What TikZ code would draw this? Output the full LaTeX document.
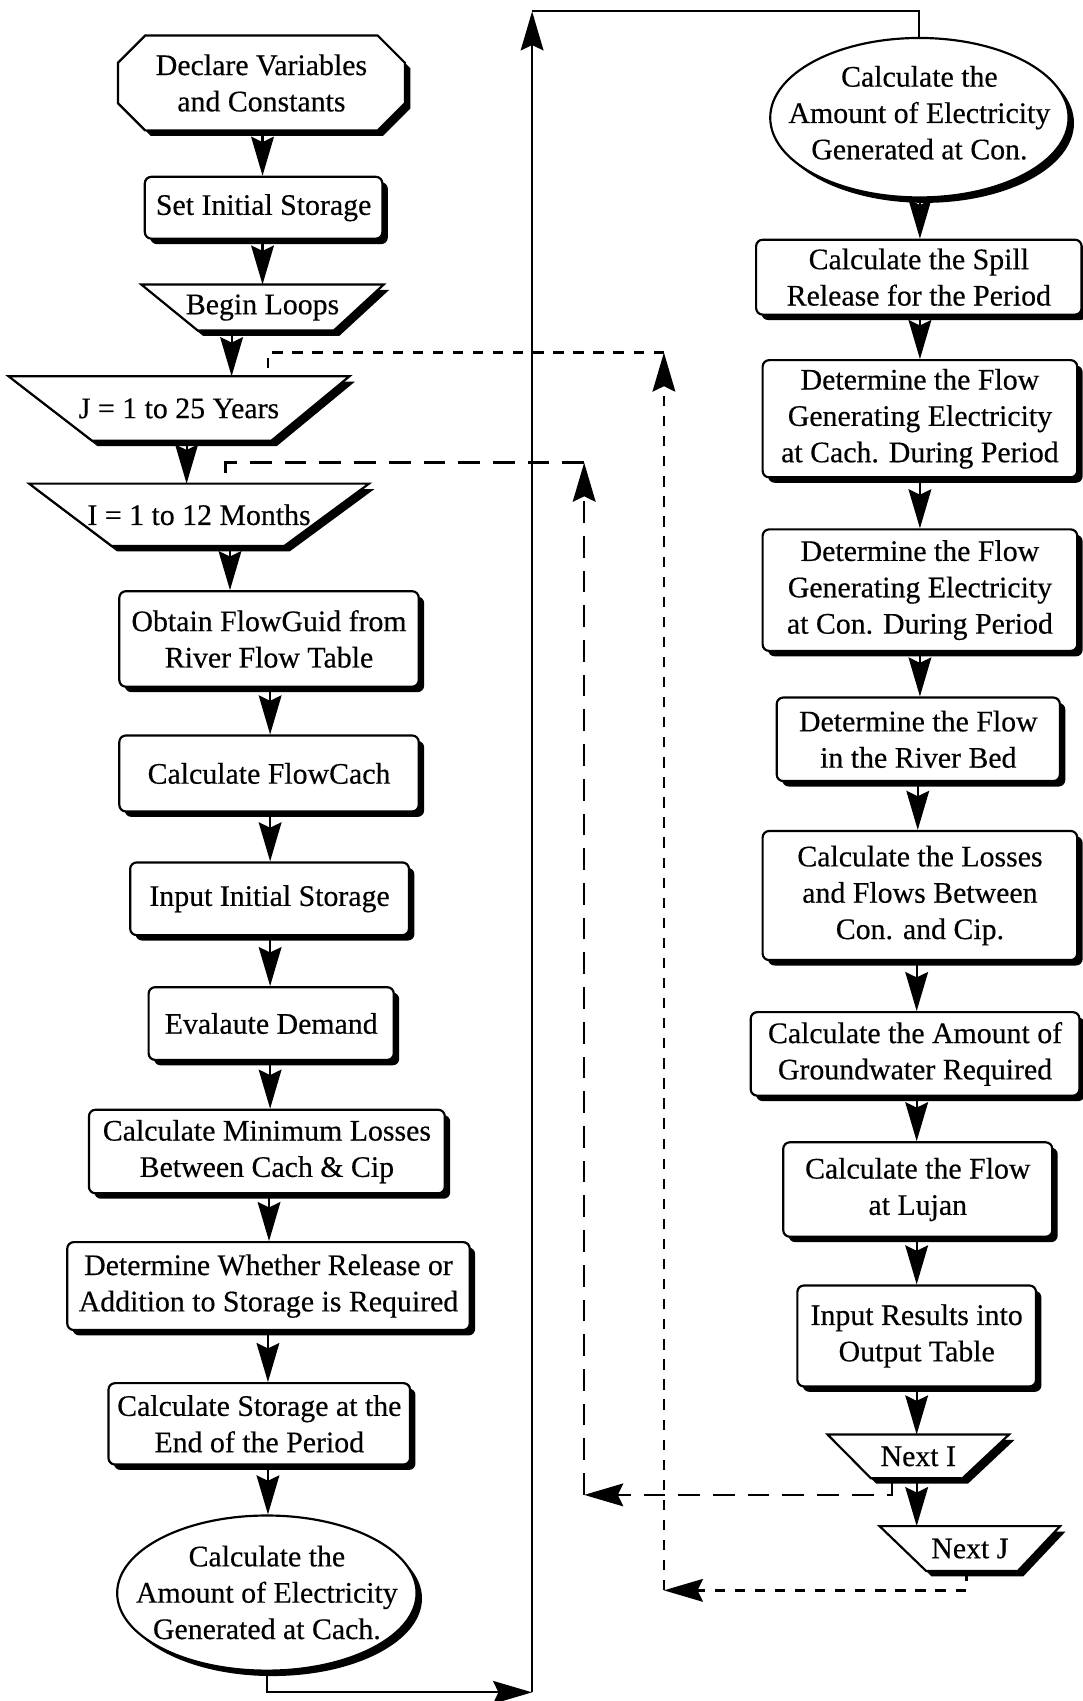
\documentclass[tikz,border=0pt]{standalone}
\usepackage{fontspec}
\setmainfont{Liberation Serif}
\newfontfamily\diagfont{Liberation Serif}[FakeBold=0.4]
\usetikzlibrary{shapes.geometric,shadows,arrows.meta,calc}
\pgfdeclarelayer{bg}
\pgfsetlayers{bg,main}
\tikzset{
  shad/.style={drop shadow={shadow xshift=5pt,shadow yshift=-5pt,opacity=1,fill=black}},
  frame/.style={draw=black,line width=2pt,fill=white,shad},
  box/.style={frame,rounded corners=6pt,inner sep=0pt,align=center},
  txt/.style={inner sep=0pt,align=center},
  ell/.style={frame,ellipse,inner sep=0pt},
  dtip/.style={-{Stealth[length=36pt,width=21pt,inset=5pt]}},
  arr/.style={line width=2pt,dtip},
  ln/.style={line width=2pt},
  dashI/.style={line width=2.2pt,dash pattern=on 20pt off 12pt},
  dashJ/.style={line width=2.2pt,dash pattern=on 9.5pt off 9pt},
}
\newcommand\flowarrow[3]{\draw[arr] ([xshift=#3pt]#1.south) -- ([xshift=#3pt]#1.south |- #2.north);}
\newcommand\trapframe[3]{\begin{pgfonlayer}{bg}\draw[frame] (#1.north west) -- (#1.north east) -- ([xshift=-#3pt]#1.south east) -- ([xshift=#2pt]#1.south west) -- cycle;\end{pgfonlayer}}
\begin{document}
\begin{tikzpicture}[x=1pt,y=-1pt,font=\diagfont\fontsize{27.5}{33.5}\selectfont]
\begin{pgfonlayer}{bg}
\fill[white] (0,0) rectangle (998,1568);
\end{pgfonlayer}
\useasboundingbox (0,0) rectangle (998,1568);

% ---------- left column ----------
\node[txt,minimum width=264pt,minimum height=87pt] (decl) at (241,76.5) {Declare Variables\\and Constants};
\begin{pgfonlayer}{bg}
\draw[frame] ([xshift=25pt]decl.north west) -- ([xshift=-25pt]decl.north east) -- ([yshift=-25pt]decl.north east) -- ([yshift=25pt]decl.south east) -- ([xshift=-25pt]decl.south east) -- ([xshift=25pt]decl.south west) -- ([yshift=25pt]decl.south west) -- ([yshift=-25pt]decl.north west) -- cycle;
\end{pgfonlayer}

\node[box,minimum width=219pt,minimum height=57pt] (set) at (243,191.5) {Set Initial Storage};

\node[txt,minimum width=223pt,minimum height=42pt] (beg) at (242,283.5) {Begin Loops};
\trapframe{beg}{52}{46}

\node[txt,minimum width=314pt,minimum height=59pt] (J) at (165,376.5) {J = 1 to 25 Years};
\trapframe{J}{77}{72}

\node[txt,minimum width=313pt,minimum height=57pt] (I) at (183.5,474.5) {I = 1 to 12 Months};
\trapframe{I}{76}{78}

\node[box,minimum width=276pt,minimum height=88pt] (obt) at (248,589) {Obtain FlowGuid from\\River Flow Table};
\node[box,minimum width=276pt,minimum height=70pt] (fc) at (248,713) {Calculate FlowCach};
\node[box,minimum width=257pt,minimum height=67pt] (iis) at (248.5,828.5) {Input Initial Storage};
\node[box,minimum width=226pt,minimum height=67pt] (ev) at (250,943.5) {Evalaute Demand};
\node[box,minimum width=328pt,minimum height=77pt] (ml) at (246,1061.5) {Calculate Minimum Losses\\Between Cach \& Cip};
\node[box,minimum width=371pt,minimum height=81pt] (dw) at (247.5,1185.5) {Determine Whether Release or\\Addition to Storage is Required};
\node[box,minimum width=278pt,minimum height=75pt] (se) at (239,1312.5) {Calculate Storage at the\\End of the Period};
\node[ell,minimum width=276pt,minimum height=143pt] (cachE) at (246,1468.5) {};
\node[txt] (cachT) at (246,1468) {Calculate the\\Amount of Electricity\\Generated at Cach.};

% ---------- right column ----------
\node[ell,minimum width=275pt,minimum height=147pt] (conE) at (847.5,108.5) {};
\node[txt] (conT) at (847.5,104) {Calculate the\\Amount of Electricity\\Generated at Con.};
\node[box,minimum width=300pt,minimum height=69pt] (sp) at (847,255.5) {Calculate the Spill\\Release for the Period};
\node[box,minimum width=290pt,minimum height=108pt] (fcach) at (848,386) {Determine the Flow\\Generating Electricity\\at Cach. During Period};
\node[box,minimum width=290pt,minimum height=112pt] (fcon) at (848,544) {Determine the Flow\\Generating Electricity\\at Con. During Period};
\node[box,minimum width=261pt,minimum height=77pt] (rb) at (846.5,681.5) {Determine the Flow\\in the River Bed};
\node[box,minimum width=290pt,minimum height=119pt] (lo) at (848,825.5) {Calculate the Losses\\and Flows Between\\Con. and Cip.};
\node[box,minimum width=303pt,minimum height=77pt] (gw) at (843.5,971.5) {Calculate the Amount of\\Groundwater Required};
\node[box,minimum width=248pt,minimum height=87pt] (lu) at (846,1096.5) {Calculate the Flow\\at Lujan};
\node[box,minimum width=220pt,minimum height=93pt] (ir) at (845,1231.5) {Input Results into\\Output Table};
\node[txt,minimum width=167pt,minimum height=40pt] (ni) at (846.5,1342.5) {Next I};
\trapframe{ni}{40}{43}
\node[txt,minimum width=166pt,minimum height=41pt] (nj) at (894,1427.5) {Next J};
\trapframe{nj}{43}{39}

% ---------- flow arrows ----------
\flowarrow{decl}{set}{1}
\flowarrow{set}{beg}{-1}
\flowarrow{beg}{J}{-28.5}
\flowarrow{J}{I}{7}
\flowarrow{I}{obt}{28.5}
\flowarrow{obt}{fc}{1}
\flowarrow{fc}{iis}{1}
\flowarrow{iis}{ev}{0.5}
\flowarrow{ev}{ml}{-1}
\flowarrow{ml}{dw}{2}
\flowarrow{dw}{se}{-0.5}
\flowarrow{se}{cachE}{8}
\flowarrow{conE}{sp}{0.5}
\flowarrow{sp}{fcach}{1}
\flowarrow{fcach}{fcon}{0}
\flowarrow{fcon}{rb}{0}
\flowarrow{rb}{lo}{-0.5}
\flowarrow{lo}{gw}{-3}
\flowarrow{gw}{lu}{1.5}
\flowarrow{lu}{ir}{-1}
\flowarrow{ir}{ni}{0}
\flowarrow{ni}{nj}{-1.5}

% ---------- solid link between columns ----------
\coordinate (b1) at (490.5,1560);
\coordinate (t0) at (490.5,10.5);
\draw[arr] (cachE.south) |- (b1);
\draw[arr] (b1) -- (t0);
\draw[ln] (t0) -| (conE.north);

% ---------- dashed loop J ----------
\coordinate (jB) at (612,1466);
\coordinate (jD) at (612,325);
\draw[dashJ,dtip] ([xshift=-3pt]nj.south) |- (jB);
\draw[dashJ,dtip] (jB) -- (jD);
\draw[dashJ] (jD) -| ([xshift=82pt]J.north);

% ---------- dashed loop I ----------
\coordinate (iB) at (538.5,1378);
\coordinate (iD) at (538.5,426.5);
\draw[dashI,dtip] ([xshift=-24.5pt]ni.south) |- (iB);
\draw[dashI,dtip] (iB) -- (iD);
\draw[dashI] (iD) -| ([xshift=24.5pt]I.north);
\end{tikzpicture}
\end{document}
